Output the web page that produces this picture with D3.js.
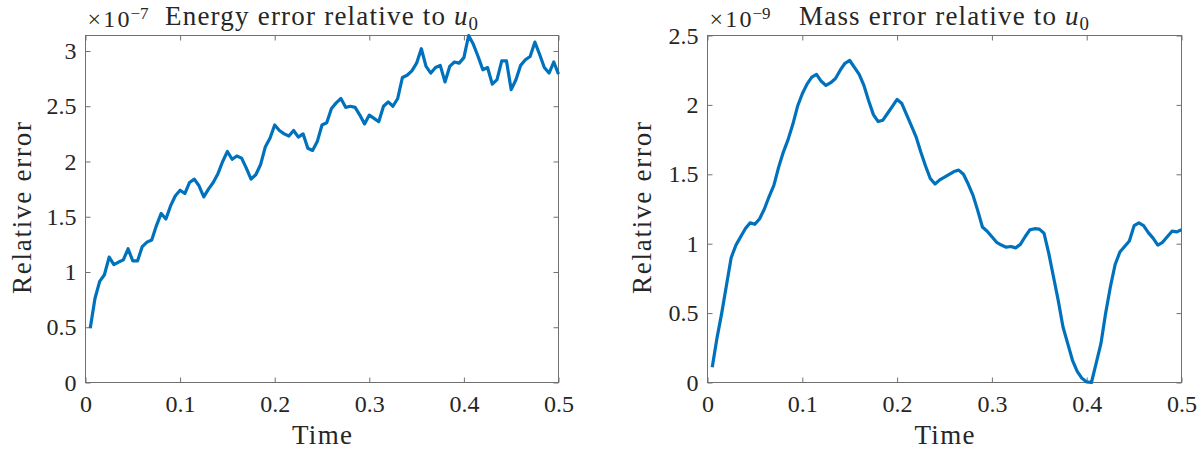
<!DOCTYPE html>
<html>
<head>
<meta charset="utf-8">
<script src="https://cdn.jsdelivr.net/npm/d3@7/dist/d3.min.js"></script>
<style>
    body { margin: 0; background: #ffffff; }
    svg text { font-family: "Liberation Serif", "DejaVu Serif", serif; fill: #262626; }
</style>
</head>
<body>
<div id="chart"></div>
<script>

// samples are taken every timeStep, starting at t = timeStep
var timeStep = 0.005;

var energyError = [
    0.49, 0.76, 0.915, 0.975, 1.135, 1.067, 1.09, 1.11, 1.21, 1.10,
    1.10, 1.23, 1.27, 1.29, 1.42, 1.53, 1.48, 1.60, 1.69, 1.74,
    1.71, 1.81, 1.84, 1.78, 1.68, 1.75, 1.81, 1.89, 2.00, 2.09,
    2.02, 2.05, 2.03, 1.94, 1.84, 1.88, 1.97, 2.13, 2.21, 2.33,
    2.28, 2.25, 2.23, 2.28, 2.22, 2.25, 2.12, 2.10, 2.18, 2.33,
    2.35, 2.48, 2.53, 2.57, 2.49, 2.50, 2.49, 2.42, 2.34, 2.42,
    2.39, 2.36, 2.50, 2.54, 2.50, 2.57, 2.76, 2.78, 2.82, 2.89,
    3.02, 2.86, 2.80, 2.85, 2.87, 2.72, 2.86, 2.90, 2.89, 2.94,
    3.14, 3.06, 2.95, 2.83, 2.85, 2.70, 2.74, 2.91, 2.91, 2.65,
    2.74, 2.87, 2.92, 2.95, 3.08, 2.97, 2.85, 2.80, 2.90, 2.79
];

var massError = [
    0.11, 0.32, 0.50, 0.70, 0.90, 0.99, 1.05, 1.11, 1.15, 1.14,
    1.18, 1.25, 1.34, 1.42, 1.55, 1.66, 1.75, 1.86, 1.99, 2.08,
    2.15, 2.20, 2.22, 2.17, 2.14, 2.16, 2.19, 2.25, 2.30, 2.32,
    2.27, 2.22, 2.14, 2.03, 1.93, 1.88, 1.89, 1.94, 1.99, 2.04,
    2.01, 1.93, 1.85, 1.77, 1.66, 1.56, 1.47, 1.43, 1.46, 1.48,
    1.50, 1.52, 1.53, 1.50, 1.43, 1.35, 1.24, 1.12, 1.09, 1.05,
    1.01, 0.99, 0.975, 0.98, 0.97, 0.995, 1.05, 1.10, 1.108, 1.105,
    1.075, 0.93, 0.76, 0.59, 0.40, 0.28, 0.16, 0.08, 0.03, 0.004,
    0.0, 0.14, 0.28, 0.50, 0.69, 0.85, 0.94, 0.98, 1.02, 1.13,
    1.15, 1.13, 1.08, 1.04, 0.99, 1.01, 1.05, 1.09, 1.085, 1.10
];

var timeTicks = ["0", "0.1", "0.2", "0.3", "0.4", "0.5"];
var energyTicks = ["0", "0.5", "1", "1.5", "2", "2.5", "3"];
var massTicks = ["0", "0.5", "1", "1.5", "2", "2.5"];

var FULL_WIDTH = 1204;
var FULL_HEIGHT = 451;

var svg = d3.select("#chart")
    .append("svg")
    .attr("width", FULL_WIDTH)
    .attr("height", FULL_HEIGHT)
    .attr("viewBox", "0 0 " + FULL_WIDTH + " " + FULL_HEIGHT);


ErrorPlot = function(parent, opts){

    this.parent = parent;
    this.opts = opts;

    this.lineColor = "#0072bd";
    this.axisColor = "#262626";
    this.tickFont = 24;
    this.labelFont = 27;

    this._build();
    this._draw_axes();
    this._draw_line();
    this._draw_labels();
};

ErrorPlot.prototype._build = function(){

    var o = this.opts;

    this.g = this.parent.append("g");

    this.x = d3.scaleLinear()
        .domain([0, 0.5])
        .range([o.left, o.right]);

    this.y = d3.scaleLinear()
        .domain([0, o.yMax])
        .range([o.bottom, o.top]);

};

ErrorPlot.prototype._draw_axes = function(){

    var self = this;
    var o = this.opts;
    var tick = 5;

    var xVals = timeTicks.map(Number);
    var yVals = o.yTicks.map(Number);

    var bottomAxis = d3.axisBottom(this.x)
        .tickValues(xVals)
        .tickFormat(function(d, i){ return timeTicks[i]; })
        .tickSizeInner(-tick)
        .tickSizeOuter(0)
        .tickPadding(12);

    var topAxis = d3.axisTop(this.x)
        .tickValues(xVals)
        .tickFormat("")
        .tickSizeInner(-tick)
        .tickSizeOuter(0);

    var leftAxis = d3.axisLeft(this.y)
        .tickValues(yVals)
        .tickFormat(function(d, i){ return o.yTicks[i]; })
        .tickSizeInner(-tick)
        .tickSizeOuter(0)
        .tickPadding(9);

    var rightAxis = d3.axisRight(this.y)
        .tickValues(yVals)
        .tickFormat("")
        .tickSizeInner(-tick)
        .tickSizeOuter(0);

    var axes = [
        [bottomAxis, "translate(0," + o.bottom + ")"],
        [topAxis, "translate(0," + o.top + ")"],
        [leftAxis, "translate(" + o.left + ",0)"],
        [rightAxis, "translate(" + o.right + ",0)"]
    ];

    axes.forEach(function(a){
        var ax = self.g.append("g")
            .attr("transform", a[1])
            .attr("font-family", null)
            .call(a[0]);
        ax.attr("font-family", null);
        ax.select(".domain").remove();
        ax.selectAll("line")
            .attr("stroke", "#707070")
            .attr("stroke-width", 1);
        ax.selectAll("text")
            .style("font-size", self.tickFont + "px")
            .attr("fill", self.axisColor);
    });

    // box around the plot area
    this.g.append("rect")
        .attr("x", o.left)
        .attr("y", o.top)
        .attr("width", o.right - o.left)
        .attr("height", o.bottom - o.top)
        .attr("fill", "none")
        .attr("stroke", "#707070")
        .attr("stroke-width", 1);

};

ErrorPlot.prototype._draw_line = function(){

    var self = this;

    var line = d3.line()
        .x(function(d, i){ return self.x((i + 1) * timeStep); })
        .y(function(d){ return self.y(d); });

    this.g.append("path")
        .datum(this.opts.values)
        .attr("d", line)
        .attr("fill", "none")
        .attr("stroke", this.lineColor)
        .attr("stroke-width", 3.2)
        .attr("stroke-linejoin", "round")
        .attr("stroke-linecap", "butt");

};

ErrorPlot.prototype._draw_labels = function(){

    var o = this.opts;
    var mid = (o.left + o.right) / 2;

    // exponent of the y axis
    this.g.append("text")
        .attr("x", o.left + 2)
        .attr("y", 27)
        .attr("textLength", 42)
        .attr("lengthAdjust", "spacing")
        .style("font-size", this.tickFont + "px")
        .text("\u00d710");

    this.g.append("text")
        .attr("x", o.left + 45)
        .attr("y", 19)
        .style("font-size", "17px")
        .text("\u2212" + o.exponent);

    // title: words stretched to the usual width, then the italic u with subscript
    var uWidth = 25;
    var gap = 9;
    var start = mid - (o.titleWidth + gap + uWidth) / 2;

    this.g.append("text")
        .attr("x", start)
        .attr("y", 25)
        .attr("textLength", o.titleWidth)
        .attr("lengthAdjust", "spacing")
        .style("font-size", this.labelFont + "px")
        .text(o.title);

    var u = this.g.append("text")
        .attr("x", start + o.titleWidth + gap)
        .attr("y", 25)
        .style("font-size", this.labelFont + "px");
    u.append("tspan")
        .style("font-style", "italic")
        .text("u");
    u.append("tspan")
        .attr("dx", 1)
        .attr("dy", 5)
        .style("font-size", (this.labelFont * 0.7) + "px")
        .text("0");

    this.g.append("text")
        .attr("x", mid - 30)
        .attr("y", 444)
        .attr("textLength", 60)
        .attr("lengthAdjust", "spacing")
        .style("font-size", this.labelFont + "px")
        .text("Time");

    this.g.append("text")
        .attr("transform", "translate(" + o.yLabelX + "," + ((o.top + o.bottom) / 2 + 85) + ") rotate(-90)")
        .attr("textLength", 172)
        .attr("lengthAdjust", "spacing")
        .style("font-size", this.labelFont + "px")
        .text("Relative error");

};


var energyPlot = new ErrorPlot(svg, {
    values: energyError,
    yMax: d3.max(energyError),
    yTicks: energyTicks,
    exponent: "7",
    title: "Energy error relative to",
    titleWidth: 280,
    left: 85.5,
    right: 558.5,
    top: 35.5,
    bottom: 382.5,
    yLabelX: 31
});

var massPlot = new ErrorPlot(svg, {
    values: massError,
    yMax: 2.5,
    yTicks: massTicks,
    exponent: "9",
    title: "Mass error relative to",
    titleWidth: 257,
    left: 707.5,
    right: 1181.5,
    top: 35.5,
    bottom: 382.5,
    yLabelX: 651
});

</script>
</body>
</html>
